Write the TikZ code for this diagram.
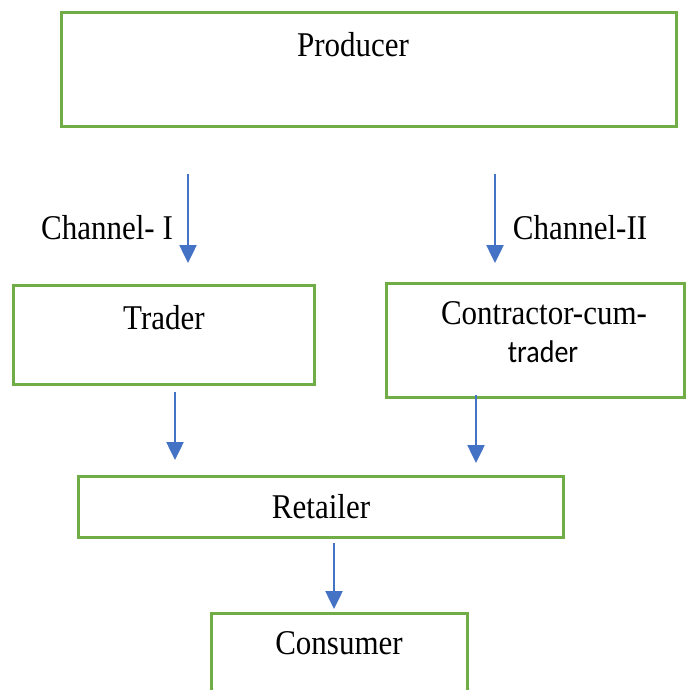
\documentclass[tikz,border=0pt]{standalone}
\usepackage{fontspec}
\usepackage{graphicx}
\setmainfont{Liberation Serif}
\newfontfamily\calfont{Carlito}
\usetikzlibrary{arrows.meta}
\definecolor{boxgreen}{RGB}{112,173,71}
\definecolor{flowblue}{RGB}{68,114,196}
\newcommand{\tallt}[1]{\scalebox{1}[1.12]{#1}}
\tikzset{
  stagebox/.style={draw=boxgreen, line width=3pt, rectangle, inner sep=0pt},
  lbl/.style={font=\fontsize{31}{36}\selectfont, inner sep=0pt},
  flow/.style={draw=flowblue, line width=2.5pt, -{Triangle[width=17pt,length=18pt]}}
}
\begin{document}
\begin{tikzpicture}[x=1pt,y=-1pt]
  \useasboundingbox (0,0) rectangle (691,689);
  \clip (0,0) rectangle (691,689);

  % boxes
  \node[stagebox, minimum width=615pt, minimum height=114pt] (prod) at (368.5,69) {};
  \node[stagebox, minimum width=301pt, minimum height=99pt] (trad) at (163.5,334.5) {};
  \node[stagebox, minimum width=298pt, minimum height=114pt] (cont) at (535,340) {};
  \node[stagebox, minimum width=485pt, minimum height=61pt] (ret) at (320.5,506.5) {};
  \node[stagebox, minimum width=256pt, minimum height=130pt] (cons) at (339,678) {};

  % texts
  \node[lbl] (tprod) at (353,45) {\tallt{Producer}};
  \node[lbl] (ttrad) at (164,318) {\tallt{Trader}};
  \node[lbl] (tcont1) at (544,313) {\tallt{Contractor-cum-}};
  \node[lbl, font=\calfont\fontsize{28}{34}\selectfont] (tcont2) at (543,352) {\tallt{trader}};
  \node[lbl] (tret) at (321,507) {\tallt{Retailer}};
  \node[lbl] (tcons) at (339,643) {\tallt{Consumer}};
  \node[lbl] (ch1) at (107,228) {\tallt{Channel- I}};
  \node[lbl] (ch2) at (580,228) {\tallt{Channel-II}};

  % arrow end points
  \coordinate (a1s) at (188,174); \coordinate (a1e) at (188,263);
  \coordinate (a2s) at (495,174); \coordinate (a2e) at (495,263);
  \coordinate (a3s) at (175,392); \coordinate (a3e) at (175,460);
  \coordinate (a4s) at (476,395); \coordinate (a4e) at (476,463);
  \coordinate (a5s) at (334,543); \coordinate (a5e) at (334,609);

  % flows
  \draw[flow] (a1s) -- (a1e);
  \draw[flow] (a2s) -- (a2e);
  \draw[flow] (a3s) -- (a3e);
  \draw[flow] (a4s) -- (a4e);
  \draw[flow] (a5s) -- (a5e);
\end{tikzpicture}
\end{document}
